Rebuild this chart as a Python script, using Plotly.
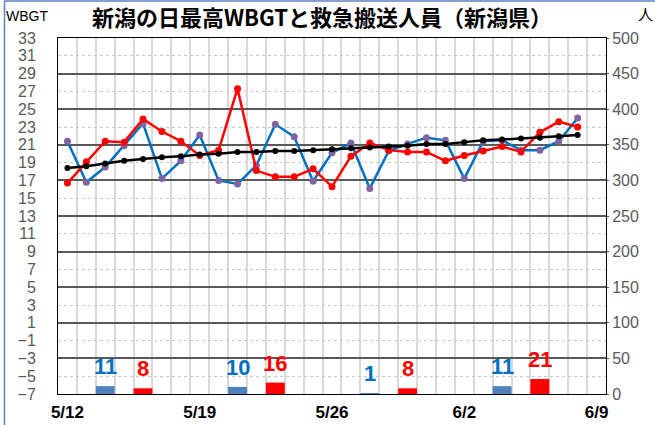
import plotly.graph_objects as go

# ---- data ----
dates = ["5/12", "5/13", "5/14", "5/15", "5/16", "5/17", "5/18",
         "5/19", "5/20", "5/21", "5/22", "5/23", "5/24", "5/25",
         "5/26", "5/27", "5/28", "5/29", "5/30", "5/31", "6/1",
         "6/2", "6/3", "6/4", "6/5", "6/6", "6/7", "6/8"]

wbgt_this_year = [16.7, 19.1, 21.4, 21.3, 23.9, 22.5, 21.4,
                  19.8, 20.4, 27.3, 18.1, 17.4, 17.4, 18.3,
                  16.3, 19.7, 21.2, 20.4, 20.2, 20.2, 19.2,
                  19.8, 20.3, 20.8, 20.2, 22.4, 23.6, 23.0]

wbgt_last_year = [21.4, 16.8, 18.5, 20.9, 23.4, 17.2, 19.2,
                  22.1, 17.0, 16.6, 18.7, 23.3, 21.9, 16.9,
                  20.1, 21.2, 16.1, 20.3, 21.1, 21.8, 21.5,
                  17.2, 21.4, 21.5, 20.4, 20.4, 21.4, 24.0]

wbgt_normal = [18.4, 18.6, 18.9, 19.2, 19.4, 19.6, 19.7,
               19.9, 20.0, 20.2, 20.2, 20.3, 20.3, 20.4,
               20.5, 20.6, 20.7, 20.8, 20.9, 21.1, 21.1,
               21.3, 21.5, 21.6, 21.7, 21.8, 21.95, 22.1]

bar_last_dates = ["5/14", "5/21", "5/28", "6/4"]
bar_last_values = [11, 10, 1, 11]
bar_this_dates = ["5/16", "5/23", "5/30", "6/6"]
bar_this_values = [8, 16, 8, 21]

week_labels = ["5/12", "5/19", "5/26", "6/2", "6/9"]
left_ticks = list(range(-7, 34, 2))
right_ticks = list(range(0, 501, 50))

# ---- helpers ----
def pos(d):
    return dates.index(d) + 0.5

x_days = [i + 0.5 for i in range(len(dates))]
NARROW = "Liberation Sans Narrow, Arial Narrow, Arial, Liberation Sans, sans-serif"
SANS = "Arial, Liberation Sans, sans-serif"

fig = go.Figure()

# bars (people, right axis)
fig.add_trace(go.Bar(x=[pos(d) for d in bar_last_dates], y=bar_last_values,
                     width=1, marker=dict(color="#4F81BD", line=dict(width=0)),
                     yaxis="y2", name="昨年搬送人員"))
fig.add_trace(go.Bar(x=[pos(d) for d in bar_this_dates], y=bar_this_values,
                     width=1, marker=dict(color="#FF0000", line=dict(width=0)),
                     yaxis="y2", name="今年搬送人員"))

# lines (WBGT, left axis)
fig.add_trace(go.Scatter(x=x_days, y=wbgt_last_year, mode="lines+markers",
                         line=dict(color="#0070C0", width=2.5),
                         marker=dict(color="#8064A2", size=7), name="昨年", cliponaxis=False))
fig.add_trace(go.Scatter(x=x_days, y=wbgt_this_year, mode="lines+markers",
                         line=dict(color="#FF0000", width=2.5),
                         marker=dict(color="#FF0000", size=7), name="今年", cliponaxis=False))
fig.add_trace(go.Scatter(x=x_days, y=wbgt_normal, mode="lines+markers",
                         line=dict(color="#000000", width=2.5),
                         marker=dict(color="#000000", size=6), name="平年", cliponaxis=False))

annotations = []
for d, v in zip(bar_last_dates, bar_last_values):
    annotations.append(dict(x=pos(d), y=v, xref="x", yref="y2", text=f"<b>{v}</b>",
                            showarrow=False, yanchor="bottom", yshift=5,
                            font=dict(family=NARROW, size=22, color="#0070C0")))
for d, v in zip(bar_this_dates, bar_this_values):
    annotations.append(dict(x=pos(d), y=v, xref="x", yref="y2", text=f"<b>{v}</b>",
                            showarrow=False, yanchor="bottom", yshift=5,
                            font=dict(family=NARROW, size=22, color="#FF0000")))

W, H = 655, 425
L, R, T, B = 58, 49, 38, 31
pw, ph = W - L - R, H - T - B

def px_to_paper_x(px):
    return (px - L) / pw

def px_to_paper_y(py):
    return (H - B - py) / ph

annotations.append(dict(x=px_to_paper_x(4), y=px_to_paper_y(16), xref="paper", yref="paper",
                        text="WBGT", showarrow=False, xanchor="left", yanchor="middle",
                        font=dict(family=SANS, size=14, color="#000000")))
annotations.append(dict(x=px_to_paper_x(636), y=px_to_paper_y(13), xref="paper", yref="paper",
                        text="人", showarrow=False, xanchor="left", yanchor="middle",
                        font=dict(family="Noto Sans CJK JP", size=15, color="#000000")))

shapes = []
for k in range(1, len(week_labels)):
    shapes.append(dict(type="line", xref="x", yref="paper", x0=7 * k, x1=7 * k, y0=0, y1=1,
                       line=dict(color="#000000", width=1), layer="between"))
# outer chart border (left and top)
shapes.append(dict(type="line", xref="paper", yref="paper",
                   x0=px_to_paper_x(4.5), x1=px_to_paper_x(4.5),
                   y0=px_to_paper_y(1), y1=px_to_paper_y(H + 5),
                   line=dict(color="#5B7FC0", width=1.5)))
shapes.append(dict(type="line", xref="paper", yref="paper",
                   x0=px_to_paper_x(4.5), x1=px_to_paper_x(W + 5),
                   y0=px_to_paper_y(1), y1=px_to_paper_y(1),
                   line=dict(color="#5B7FC0", width=1.5)))

fig.update_layout(
    width=W, height=H,
    margin=dict(l=L, r=R, t=T, b=B, pad=0),
    paper_bgcolor="white", plot_bgcolor="white",
    showlegend=False,
    barmode="overlay",
    title=dict(text="<b>新潟の日最高WBGTと救急搬送人員（新潟県）</b>",
               x=322 / W, xref="container", xanchor="center",
               y=1 - 18 / H, yref="container", yanchor="middle",
               font=dict(family="Noto Sans CJK JP", size=22, color="#000000")),
    xaxis=dict(range=[0, 29], tickmode="array",
               tickvals=[7 * k + 0.5 for k in range(len(week_labels))],
               ticktext=[f"<b>{t}</b>" for t in week_labels],
               tickfont=dict(family=NARROW, size=17, color="#000000"),
               ticks="", ticklabelstandoff=3,
               showgrid=False, zeroline=False,
               showline=True, linecolor="#000000", linewidth=1, mirror=True,
               minor=dict(tickmode="array", tickvals=list(range(1, 29)),
                          showgrid=True, gridcolor="#D9D9D9", gridwidth=2, ticks=""),
               automargin=False),
    yaxis=dict(range=[-7, 33], tickmode="array", tickvals=left_ticks,
               tickfont=dict(family=SANS, size=16, color="#595959"),
               ticks="", ticklabelstandoff=18,
               showgrid=False, zeroline=False,
               showline=True, linecolor="#000000", linewidth=1, mirror=True,
               automargin=False),
    yaxis2=dict(range=[0, 500], overlaying="y", side="right",
                tickmode="array", tickvals=right_ticks,
                tickfont=dict(family=SANS, size=16, color="#595959"),
                ticks="outside", ticklen=2, tickcolor="#595959", ticklabelstandoff=0,
                showgrid=True, gridcolor="#595959", gridwidth=1.5, zeroline=False,
                showline=False,
                minor=dict(tickmode="array", tickvals=list(range(25, 500, 50)),
                           showgrid=True, gridcolor="#C8C8C8", gridwidth=1,
                           griddash="dot", ticks=""),
                automargin=False),
    annotations=annotations,
    shapes=shapes,
)

fig.write_html("out.html", config={"displayModeBar": False},
               post_script="document.body.style.margin='0';document.body.style.overflow='hidden';")
